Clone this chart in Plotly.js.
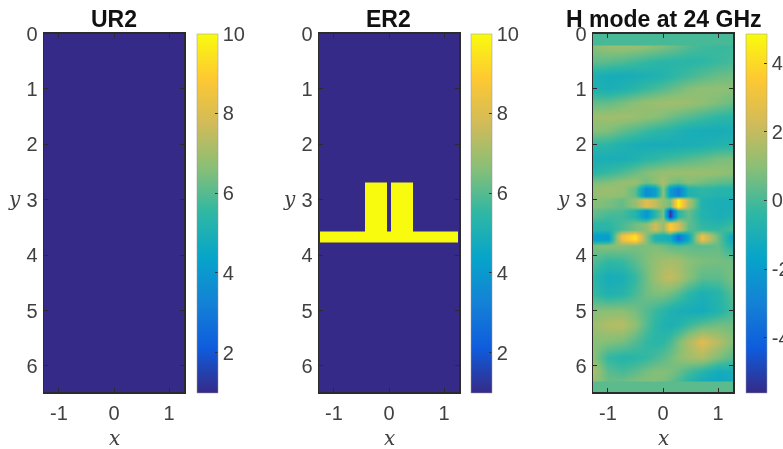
<!DOCTYPE html>
<html><head><meta charset="utf-8">
<script src="https://cdn.plot.ly/plotly-3.0.1.min.js"></script>
<style>html,body{margin:0;padding:0;background:#fff;overflow:hidden}#c{width:783px;height:449px;filter:blur(0.45px)}</style>
</head><body><div id="c"></div>
<script>
const parula = [[0,'#352a87'],[0.125,'#0f5cdd'],[0.25,'#1481d6'],[0.375,'#06a4ca'],[0.5,'#2eb7a4'],[0.625,'#87bf77'],[0.75,'#d1bb59'],[0.875,'#fec832'],[1,'#f9fb0e']];

const titles = ['UR2','ER2','H mode at 24 GHz'];
const xTickVals = [-1,0,1];
const xTickText = ['-1','0','1'];
const yTickVals = [0,1,2,3,4,5,6];
const yTickText = ['0','1','2','3','4','5','6'];
const cbTickVals = [2,4,6,8,10];
const cbTickText = ['2','4','6','8','10'];
const hTickVals = [-4,-2,0,2,4];
const hTickText = ['-4','-2','0','2','4'];

const ur2X = [-1.27,1.27];
const ur2Y = [0,6.47];
const ur2Z = [[1]];

const er2X = [-1.27,-1.25,-0.43,-0.03,0.03,0.43,1.25,1.27];
const er2Y = [0,2.68,3.58,3.77,6.47];
const er2Z = [
 [1,1,1,1,1,1,1],
 [1,1,10,1,10,1,1],
 [1,10,10,10,10,10,1],
 [1,1,1,1,1,1,1]
];

const hX = [-1.27,-1,-0.75,-0.5,-0.3,-0.15,0,0.13,0.27,0.45,0.7,1,1.27];
const hY = [0,0.19,0.21,0.5,0.75,1,1.25,1.5,1.75,2,2.25,2.5,2.68,2.79,2.93,3.0,3.12,3.2,3.3,3.42,3.54,3.64,3.72,3.82,4.1,4.4,4.7,5,5.25,5.55,5.85,6.1,6.26,6.28,6.47];
const hZ = [
 [0,0,0,0,0,0,0,0,0,0,0,0,0],
 [0,0,0,0,0,0,0,0,0,0,0,0,0],
 [1,1.3,1.4,1.3,1.2,1,.9,.7,.5,.2,-.1,-.2,-.2],
 [.4,.3,.1,-.1,-.3,-.4,-.5,-.5,-.5,-.5,-.4,-.2,0],
 [-.9,-1.1,-1.1,-1,-.9,-.8,-.7,-.5,-.3,-.1,.2,.5,.6],
 [-.8,-1,-.8,-.5,-.2,0,.2,.4,.6,.9,1.1,1.1,1],
 [.4,.4,.7,1,1.2,1.3,1.4,1.4,1.4,1.3,1.1,.8,.5],
 [1.3,1.4,1.4,1.3,1.1,1,.8,.6,.4,.2,-.1,-.4,-.5],
 [1,.8,.4,.1,-.2,-.4,-.5,-.6,-.8,-1,-1.1,-1.1,-1],
 [-.4,-.5,-.8,-1,-1.1,-1.1,-1.1,-1.1,-1,-1,-.9,-.7,-.6],
 [-1,-1,-1,-.8,-.5,-.4,-.2,-.1,0,.2,.4,.7,.8],
 [-.5,-.2,.1,.5,.9,1.1,1.2,1.3,1.3,1.3,1.3,1.2,1],
 [.8,.9,1.2,1.3,.6,1,1.6,.8,.5,.9,.6,.3,.2],
 [1.2,1.3,1.2,.4,-2.6,-1.8,1.1,-2,-3.2,-.8,-.4,-.6,-.6],
 [1.2,1.2,1.1,.4,-2.6,-1.8,1.1,-2,-3.2,-.8,-.5,-.7,-.7],
 [1,.8,.5,1.2,2.6,2,1.1,.8,4.6,1.8,-.8,-1,-1],
 [.9,.7,.4,1.1,2.6,2,1.1,.6,4.6,1.6,-.8,-1,-1],
 [.5,.2,.1,-.6,-2.2,-.5,.8,-5.2,-.5,.5,-.7,-1,-.9],
 [.3,-.1,-.1,-.6,-2.2,-.5,.8,-5.2,-.5,.4,-.7,-1,-.8],
 [-.4,-.4,0,.6,1,2.2,1.2,3.6,2.4,.4,-.4,-.6,-.2],
 [-.6,-.6,.1,.6,1,2.2,1.2,3.6,2.4,.3,-.2,-.3,.1],
 [-1.8,-1.9,3,4.3,1,-.8,-1,-1.2,-3.5,-1.5,3,.5,-1.5],
 [-1.8,-1.9,3,4.3,1,-.8,-1,-1.2,-3.5,-1.5,3,.5,-1.5],
 [.8,1,1,.8,.8,.8,.6,.3,.2,.3,.3,.4,-.8],
 [.2,-.3,-.2,.3,.8,1.2,1.4,1.5,1.4,1,.8,.7,.6],
 [-.5,-1.1,-1,-.3,.6,1.3,1.8,2,1.7,1,.3,.3,.8],
 [-.3,-.8,-.6,0,.6,.8,.8,.6,.2,-.4,-.9,-.6,.3],
 [.9,1,1,.7,.2,-.2,-.5,-.8,-1,-1.1,-1.2,-.7,0],
 [1.3,1.7,1.8,1.1,.2,-.4,-.8,-.9,-.7,-.2,.3,.6,.6],
 [1,.9,.7,.2,-.3,-.5,-.4,0,.7,1.6,2.6,1.8,.9],
 [1,-.3,-.6,-.5,-.3,0,.3,.6,1,1.4,1.6,.8,.2],
 [1.6,.3,0,.3,.7,.9,.9,.8,.5,0,-.6,-1.2,-1],
 [1.2,.5,.5,.8,.9,.9,.8,.5,.1,-.5,-1.1,-1.4,-1.2],
 [.3,.3,.3,.3,.3,.3,.3,.3,.3,.3,.3,.3,.3],
 [.3,.3,.3,.3,.3,.3,.3,.3,.3,.3,.3,.3,.3]
];

const W = 783, H = 449;
const axLeft = [44,319,593], axW = 140, axTop = 33.5, axBot = 392;
const cbLeft = [197,471,746];
const textCol = '#404040', lineCol = '#2b2b2b', fontFam = 'Liberation Sans, Arial, sans-serif';

function cb(i, vals, text){
  return {x:cbLeft[i]/W, xref:'paper', xanchor:'left', xpad:0, ypad:0,
    y:1-axTop/H, yref:'paper', yanchor:'top',
    thickness:21, thicknessmode:'pixels', len:axBot-axTop, lenmode:'pixels',
    tickmode:'array', tickvals:vals, ticktext:text, ticks:'inside', ticklen:3, tickwidth:1, tickcolor:'#333',
    tickfont:{family:fontFam,size:20,color:textCol}, outlinewidth:0.5, outlinecolor:'#999'};
}
const traces = [
 {type:'heatmap',x:ur2X,y:ur2Y,z:ur2Z,zmin:1,zmax:10,colorscale:parula,xaxis:'x',yaxis:'y',colorbar:cb(0,cbTickVals,cbTickText)},
 {type:'heatmap',x:er2X,y:er2Y,z:er2Z,zmin:1,zmax:10,colorscale:parula,xaxis:'x2',yaxis:'y2',colorbar:cb(1,cbTickVals,cbTickText)},
 {type:'heatmap',x:hX,y:hY,z:hZ,zmin:-5.6,zmax:4.87,zsmooth:'best',colorscale:parula,xaxis:'x3',yaxis:'y3',colorbar:cb(2,hTickVals,hTickText)}
];
const layout = {width:W,height:H,margin:{l:0,r:0,t:0,b:0,autoexpand:false},paper_bgcolor:'#fff',plot_bgcolor:'#fff',font:{family:fontFam,color:textCol},annotations:[]};
['','2','3'].forEach((s,i)=>{
  const common = {showgrid:false,zeroline:false,showline:true,linecolor:lineCol,linewidth:1.5,mirror:'ticks',ticks:'inside',ticklen:4,tickwidth:1,tickcolor:lineCol,tickfont:{family:fontFam,size:20,color:textCol},tickmode:'array'};
  layout['xaxis'+s] = Object.assign({},common,{domain:[axLeft[i]/W,(axLeft[i]+axW)/W],range:[-1.27,1.27],tickvals:xTickVals,ticktext:xTickText,anchor:'y'+s,ticklabelstandoff:2});
  layout['yaxis'+s] = Object.assign({},common,{domain:[1-axBot/H,1-axTop/H],range:[6.47,0],tickvals:yTickVals,ticktext:yTickText,anchor:'x'+s,ticklabelstandoff:1});
  const cx = (axLeft[i]+axW/2)/W;
  layout.annotations.push({text:'<b>'+titles[i]+'</b>',xref:'paper',yref:'paper',x:(i==2?663.5:axLeft[i]+axW/2-0.5)/W,y:1-19/H,xanchor:'center',yanchor:'middle',showarrow:false,font:{family:fontFam,size:23,color:'#111'}});
  layout.annotations.push({text:'<i>x</i>',xref:'paper',yref:'paper',x:cx,y:1-438/H,xanchor:'center',yanchor:'middle',showarrow:false,font:{family:'DejaVu Serif, serif',size:20,color:textCol}});
  layout.annotations.push({text:'<i>y</i>',xref:'paper',yref:'paper',x:(axLeft[i]-30)/W,y:1-199/H,xanchor:'center',yanchor:'middle',showarrow:false,font:{family:'DejaVu Serif, serif',size:20,color:textCol}});
});
Plotly.newPlot('c',traces,layout,{displayModeBar:false,staticPlot:true});
</script></body></html>
